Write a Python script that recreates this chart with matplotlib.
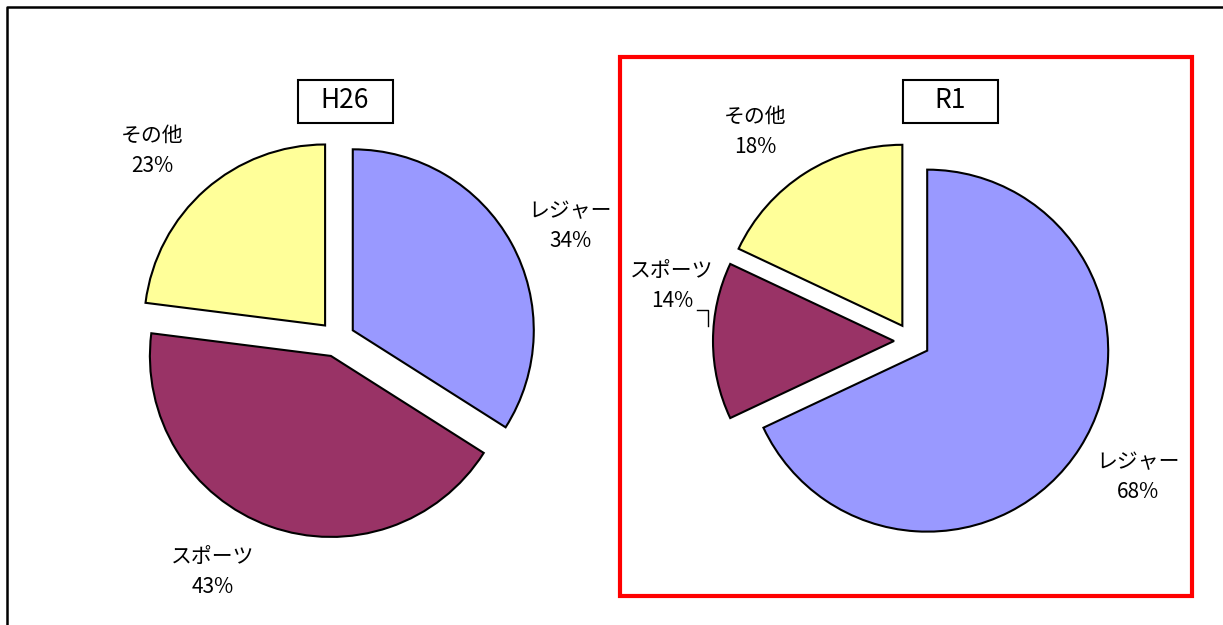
import matplotlib.pyplot as plt
from matplotlib.patches import Rectangle

plt.rcParams['font.family'] = ['Noto Sans CJK JP', 'DejaVu Sans']

W, H = 1223, 625

categories = ['レジャー', 'スポーツ', 'その他']
colors = ['#9999FF', '#993366', '#FFFF99']

h26_label = 'H26'
h26_values = [34, 43, 23]

r1_label = 'R1'
r1_values = [68, 14, 18]


def py(y):
    # pixel row (from top) -> axis y (from bottom)
    return H - y


def draw_pie(ax, values, cx, cy, label_pos, radius=181, explode=18):
    labels = ['%s\n%d%%' % (c, v) for c, v in zip(categories, values)]
    wedges, texts = ax.pie(values, labels=labels, colors=colors,
                           explode=[explode] * len(values),
                           center=(cx, py(cy)), radius=radius,
                           startangle=90, counterclock=False,
                           labeldistance=1.36,
                           wedgeprops=dict(edgecolor='black', linewidth=1.5),
                           textprops=dict(ha='center', va='center',
                                          fontsize=15, linespacing=1.45))
    for t, (x, y) in zip(texts, label_pos):
        t.set_position((x, py(y)))
    return wedges, texts


def title_box(ax, text, cx, cy, w=95, h=43):
    ax.add_patch(Rectangle((cx - w / 2, py(cy) - h / 2), w, h,
                           facecolor='white', edgecolor='black', linewidth=1.5))
    ax.text(cx, py(cy), text, ha='center', va='center', fontsize=19)


fig = plt.figure(figsize=(W / 100, H / 100), dpi=100)
ax = fig.add_axes([0, 0, 1, 1])

draw_pie(ax, h26_values, 337, 339,
         label_pos=[(570, 226), (213, 572), (152, 151)])
draw_pie(ax, r1_values, 912, 341,
         label_pos=[(1138, 477), (672, 286), (755, 132)])

# leader line for the small sports slice
ax.plot([697, 708, 708], [py(310), py(310), py(326)], color='black', linewidth=1)

title_box(ax, h26_label, 345, 101)
title_box(ax, r1_label, 950, 101)

# frame around the R1 pie
ax.add_patch(Rectangle((620, py(596)), 1192 - 620, 596 - 57,
                       fill=False, edgecolor='#FF0000', linewidth=3))

# outer border (top and left edges only visible)
ax.plot([7, 7, W + 5], [-5, py(7), py(7)], color='black', linewidth=1.8,
        clip_on=False)

ax.set_xlim(0, W)
ax.set_ylim(0, H)
ax.set_aspect('equal')
ax.axis('off')

fig.savefig('out.png', dpi=100)
